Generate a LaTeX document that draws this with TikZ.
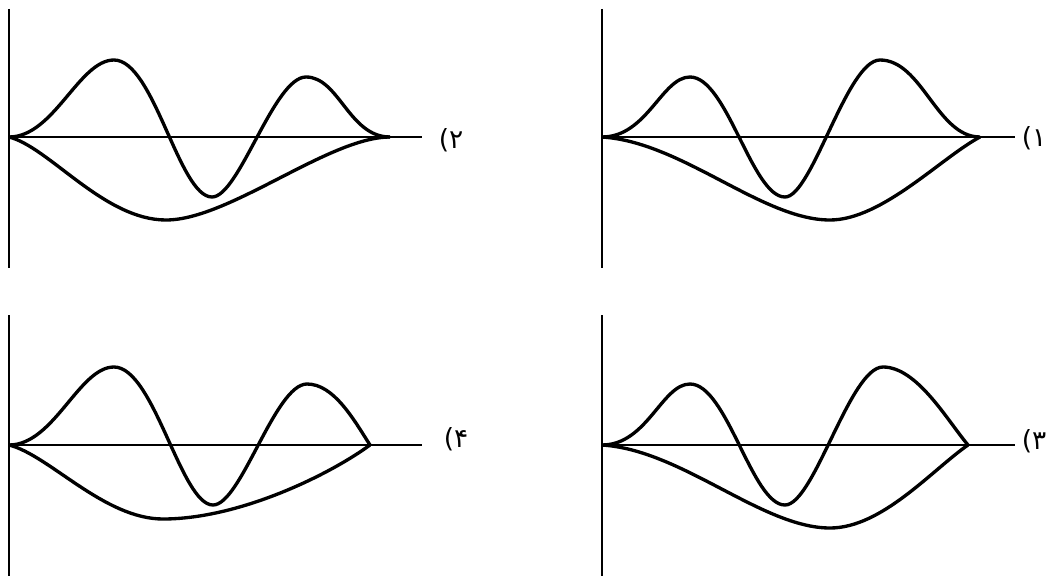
\documentclass[tikz,border=0pt]{standalone}
\usepackage{fontspec}
\newfontfamily\fadigits{DejaVu Sans}
\usetikzlibrary{positioning}

\begin{document}
\begin{tikzpicture}[x=0.02cm,y=0.02cm,
        ax/.style={line width=1.1pt},
        wave/.style={line width=1.9pt,line join=round},
        lbl/.style={font=\fadigits\fontsize{15}{17}\selectfont,inner sep=1pt}]
  \useasboundingbox (0,0) rectangle (1051,576);

  % 2) top left
  \begin{scope}[shift={(9,439)}]
    \coordinate (o2) at (0,0);
    \coordinate (v2t) at (0,128); \coordinate (v2b) at (0,-131);
    \coordinate (h2) at (413,0);
    \draw[ax] (v2t) -- (v2b); \draw[ax] (o2) -- (h2);
    \draw[wave] (o2) .. controls (45,0) and (70,77) .. (105,77)
      .. controls (145,77) and (170,-60) .. (203,-60)
      .. controls (230,-60) and (265,60) .. (297,60)
      .. controls (330,60) and (340,0) .. (381,0);
    \draw[wave] (o2) .. controls (40,-10) and (95,-83) .. (157,-83)
      .. controls (220,-83) and (320,0) .. (381,0);
    \node[lbl] (l2) at (442,-3) {(۲};
  \end{scope}

  % 1) top right
  \begin{scope}[shift={(602,439)}]
    \coordinate (o1) at (0,0);
    \coordinate (v1t) at (0,128); \coordinate (v1b) at (0,-131);
    \coordinate (h1) at (413,0);
    \draw[ax] (v1t) -- (v1b); \draw[ax] (o1) -- (h1);
    \draw[wave] (o1) .. controls (45,0) and (60,60) .. (88,60)
      .. controls (125,60) and (150,-60) .. (183,-60)
      .. controls (210,-60) and (245,77) .. (278,77)
      .. controls (320,77) and (335,0) .. (378,0);
    \draw[wave] (o1) .. controls (80,-5) and (160,-83) .. (228,-83)
      .. controls (280,-83) and (340,-20) .. (378,0);
    \node[lbl] (l1) at (432,-1) {(۱};
  \end{scope}

  % 4) bottom left
  \begin{scope}[shift={(9,131)}]
    \coordinate (o4) at (0,0);
    \coordinate (v4t) at (0,130); \coordinate (v4b) at (0,-131);
    \coordinate (h4) at (413,0);
    \draw[ax] (v4t) -- (v4b); \draw[ax] (o4) -- (h4);
    \draw[wave] (o4) .. controls (45,0) and (70,78) .. (105,78)
      .. controls (145,78) and (172,-60) .. (204,-60)
      .. controls (232,-60) and (266,61) .. (298,61)
      .. controls (325,61) and (345,25) .. (361,0);
    \draw[wave] (o4) .. controls (40,-10) and (95,-74) .. (154,-74)
      .. controls (230,-74) and (320,-30) .. (361,0);
    \node[lbl] (l4) at (447,6) {(۴};
  \end{scope}

  % 3) bottom right
  \begin{scope}[shift={(602,131)}]
    \coordinate (o3) at (0,0);
    \coordinate (v3t) at (0,130); \coordinate (v3b) at (0,-131);
    \coordinate (h3) at (413,0);
    \draw[ax] (v3t) -- (v3b); \draw[ax] (o3) -- (h3);
    \draw[wave] (o3) .. controls (45,0) and (60,61) .. (88,61)
      .. controls (125,61) and (150,-60) .. (183,-60)
      .. controls (212,-60) and (248,78) .. (281,78)
      .. controls (315,78) and (345,25) .. (366,0);
    \draw[wave] (o3) .. controls (80,-5) and (160,-83) .. (228,-83)
      .. controls (280,-83) and (330,-25) .. (366,0);
    \node[lbl] (l3) at (432,4) {(۳};
  \end{scope}
\end{tikzpicture}
\end{document}
